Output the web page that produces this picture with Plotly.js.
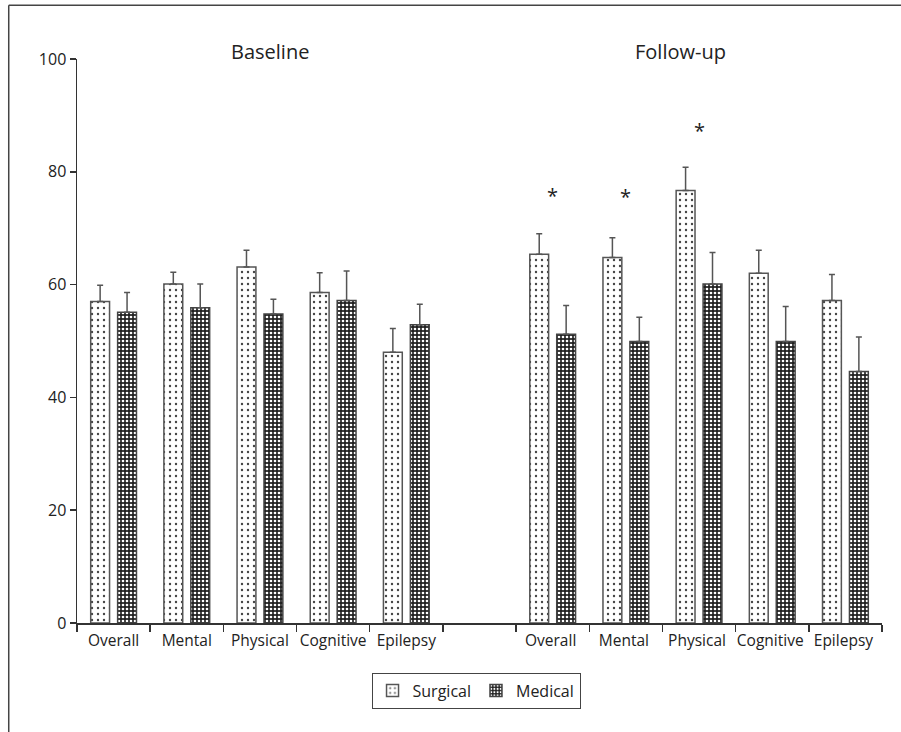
<!DOCTYPE html>
<html>
<head>
<meta charset="utf-8">
<script src="https://cdn.plot.ly/plotly-3.0.1.min.js"></script>
<style>html,body{margin:0;padding:0;background:#fff;}#chart{width:901px;height:732px;}</style>
</head>
<body>
<div id="chart"></div>
<script>
// ---- data ----
const categories = ['Overall', 'Mental', 'Physical', 'Cognitive', 'Epilepsy'];
const surgicalBaseline    = [57.0, 60.1, 63.1, 58.6, 48.0];
const surgicalBaselineErr = [2.9, 2.1, 3.0, 3.5, 4.2];
const medicalBaseline     = [55.1, 55.9, 54.8, 57.2, 52.9];
const medicalBaselineErr  = [3.5, 4.2, 2.6, 5.2, 3.6];
const surgicalFollowup    = [65.4, 64.8, 76.7, 62.0, 57.2];
const surgicalFollowupErr = [3.6, 3.5, 4.1, 4.1, 4.6];
const medicalFollowup     = [51.2, 49.9, 60.1, 49.9, 44.6];
const medicalFollowupErr  = [5.1, 4.3, 5.6, 6.2, 6.1];
const sigCategories = ['Overall', 'Mental', 'Physical'];
const sigY = [75.8, 75.7, 87.4];
const groupTitles = ['Baseline', 'Follow-up'];
const yTicks = [0, 20, 40, 60, 80, 100];

// ---- build category positions: baseline, gap, follow-up ----
const gapCat = ' ';
const followCats = categories.map(c => c + ' ');
const xCats = categories.concat([gapCat], followCats);

const surgY = surgicalBaseline.concat([null], surgicalFollowup);
const surgE = surgicalBaselineErr.concat([null], surgicalFollowupErr);
const medY = medicalBaseline.concat([null], medicalFollowup);
const medE = medicalBaselineErr.concat([null], medicalFollowupErr);
const zeros = xCats.map(() => 0);

const font = 'Open Sans, Lato, DejaVu Sans, sans-serif';
const ink = '#333';

const traces = [
  {
    type: 'bar', name: 'Surgical', x: xCats, y: surgY,
    marker: {
      color: '#ffffff',
      line: {color: '#555', width: 1.5},
      pattern: {shape: '.', bgcolor: '#ffffff', fgcolor: '#444', size: 6, solidity: 0.12}
    },
    error_y: {type: 'data', symmetric: false, array: surgE, arrayminus: zeros,
              color: '#555', thickness: 1.5, width: 3}
  },
  {
    type: 'bar', name: 'Medical', x: xCats, y: medY,
    marker: {
      color: '#333',
      line: {color: '#444', width: 1.5},
      pattern: {shape: '.', bgcolor: '#222222', fgcolor: '#ffffff', size: 4, solidity: 0.35}
    },
    error_y: {type: 'data', symmetric: false, array: medE, arrayminus: zeros,
              color: '#555', thickness: 1.5, width: 3}
  }
];

const annotations = sigCategories.map((c, i) => ({
  x: c + ' ', y: sigY[i], xref: 'x', yref: 'y', text: '*', showarrow: false,
  font: {family: font, size: 20, color: '#222'}, yanchor: 'middle'
}));
annotations.push(
  {x: 0.2398, y: 1.0135, xref: 'paper', yref: 'paper', text: groupTitles[0], showarrow: false,
   font: {family: font, size: 20, color: '#222'}, xanchor: 'center', yanchor: 'middle'},
  {x: 0.7503, y: 1.0135, xref: 'paper', yref: 'paper', text: groupTitles[1], showarrow: false,
   font: {family: font, size: 20, color: '#222'}, xanchor: 'center', yanchor: 'middle'}
);

const layout = {
  width: 901, height: 732,
  margin: {l: 77, r: 19, t: 59, b: 109, pad: 0},
  paper_bgcolor: '#fff', plot_bgcolor: '#fff',
  font: {family: font, size: 16, color: '#222'},
  barmode: 'group', bargap: 0.264, bargroupgap: 0.3,
  showlegend: true,
  legend: {
    orientation: 'h', x: 0.4957, xanchor: 'center', y: -0.088, yanchor: 'top',
    bordercolor: '#444', borderwidth: 1, font: {family: font, size: 16, color: '#222'},
    itemwidth: 30, traceorder: 'normal'
  },
  xaxis: {
    type: 'category', categoryorder: 'array', categoryarray: xCats,
    showline: true, linecolor: ink, linewidth: 1.5,
    ticks: 'outside', tickson: 'boundaries', ticklen: 7, tickcolor: ink, tickwidth: 1.5,
    tickangle: 0, automargin: false, ticklabelstandoff: 3,
    showgrid: false, zeroline: false, fixedrange: true,
    tickfont: {family: font, size: 15.5, color: '#222'}
  },
  yaxis: {
    range: [0, 100], tickvals: yTicks,
    showline: true, linecolor: ink, linewidth: 1.5,
    ticks: 'outside', ticklen: 6, tickcolor: ink, tickwidth: 1.5,
    showgrid: false, zeroline: false, fixedrange: true, automargin: false,
    tickfont: {family: font, size: 16, color: '#222'}
  },
  annotations: annotations,
  shapes: [
    {type: 'line', xref: 'paper', yref: 'paper', x0: -0.0848, x1: 1.03, y0: 1.0951, y1: 1.0951,
     line: {color: '#444', width: 1.5}},
    {type: 'line', xref: 'paper', yref: 'paper', x0: -0.0848, x1: -0.0848, y0: 1.0951, y1: -0.2,
     line: {color: '#444', width: 1.5}}
  ]
};

Plotly.newPlot('chart', traces, layout, {displayModeBar: false, staticPlot: true});
</script>
</body>
</html>
